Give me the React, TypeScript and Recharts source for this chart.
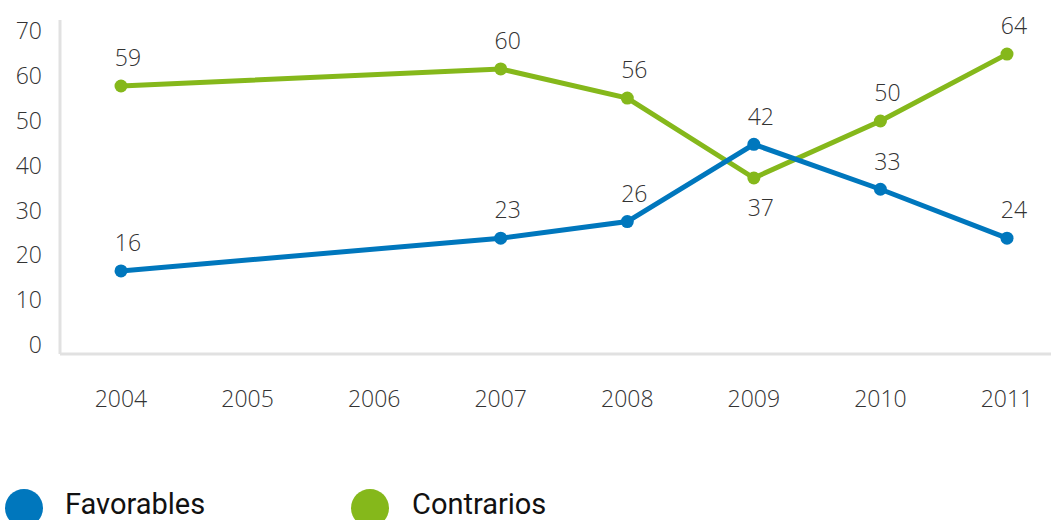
import { LineChart, Line, XAxis, YAxis, LabelList } from "recharts";

const years = ["2004", "2005", "2006", "2007", "2008", "2009", "2010", "2011"];
// plotted positions (the printed labels differ a little)
const favorables = [16.5, null, null, 23.8, 27.5, 44.7, 34.7, 23.8];
const contrarios = [57.7, null, null, 61.5, 55.0, 37.2, 49.9, 64.8];
// printed labels
const favorablesLabels = [16, null, null, 23, 26, 42, 33, 24];
const contrariosLabels = [59, null, null, 60, 56, 37, 50, 64];
const yTicks = [0, 10, 20, 30, 40, 50, 60, 70];

const BLUE = "#0077bd";
const GREEN = "#85b81b";
const FONT = "'Open Sans', sans-serif";
const LEGEND_FONT = "Roboto, sans-serif";

const data = years.map((year, i) => ({
  year,
  favorables: favorables[i],
  contrarios: contrarios[i],
  favLabel: favorablesLabels[i],
  conLabel: contrariosLabels[i],
}));

const makeLabel = (series: "contrarios" | "favorables") => (props: any) => {
  const { x, y, value, index } = props;
  if (value == null || x == null || y == null) return null;
  const row = data[index];
  // the green label goes under its point where green dips below blue
  const below = series === "contrarios" && row.favorables != null && row.contrarios != null && row.contrarios < row.favorables;
  const cy = below ? y + 30 : y - 28;
  return (
    <text
      x={x + 7}
      y={cy + 8.3}
      textAnchor="middle"
      fontFamily={FONT}
      fontWeight={300}
      fontSize={23}
      fill="#333"
    >
      {value}
    </text>
  );
};

export default function App() {
  return (
    <div style={{ position: "absolute", left: 0, top: 0, width: 1051, height: 520, background: "#fff", overflow: "hidden" }}>
      <LineChart width={1051} height={440} data={data} margin={{ top: 20, right: 0, left: 0, bottom: 0 }}>
        <XAxis
          dataKey="year"
          height={86}
          padding={{ left: 61, right: 44 }}
          axisLine={{ stroke: "#e1e1e1", strokeWidth: 3 }}
          tickLine={false}
          tickSize={0}
          tickMargin={37}
          tick={{ fontFamily: FONT, fontWeight: 300, fontSize: 23, fill: "#333" }}
          interval={0}
        />
        <YAxis
          width={60}
          domain={[-2, 72.4]}
          ticks={yTicks}
          allowDataOverflow
          axisLine={{ stroke: "#e1e1e1", strokeWidth: 3 }}
          tickLine={false}
          tickSize={0}
          tickMargin={18}
          tick={{ fontFamily: FONT, fontWeight: 300, fontSize: 23, fill: "#333" }}
        />
        <Line
          dataKey="contrarios"
          stroke={GREEN}
          strokeWidth={5}
          connectNulls
          dot={{ r: 6.5, fill: GREEN, stroke: GREEN, strokeWidth: 0 }}
          activeDot={false}
          isAnimationActive={false}
        >
          <LabelList dataKey="conLabel" content={makeLabel("contrarios")} />
        </Line>
        <Line
          dataKey="favorables"
          stroke={BLUE}
          strokeWidth={5}
          connectNulls
          dot={{ r: 6.5, fill: BLUE, stroke: BLUE, strokeWidth: 0 }}
          activeDot={false}
          isAnimationActive={false}
        >
          <LabelList dataKey="favLabel" content={makeLabel("favorables")} />
        </Line>
      </LineChart>
      <svg width={1051} height={520} style={{ position: "absolute", left: 0, top: 0, pointerEvents: "none" }}>
        <circle cx={24} cy={508} r={19} fill={BLUE} />
        <text x={65} y={514} fontFamily={LEGEND_FONT} fontSize={29} fill="#111">Favorables</text>
        <circle cx={370} cy={508} r={19} fill={GREEN} />
        <text x={412} y={514} fontFamily={LEGEND_FONT} fontSize={29} fill="#111">Contrarios</text>
      </svg>
    </div>
  );
}
